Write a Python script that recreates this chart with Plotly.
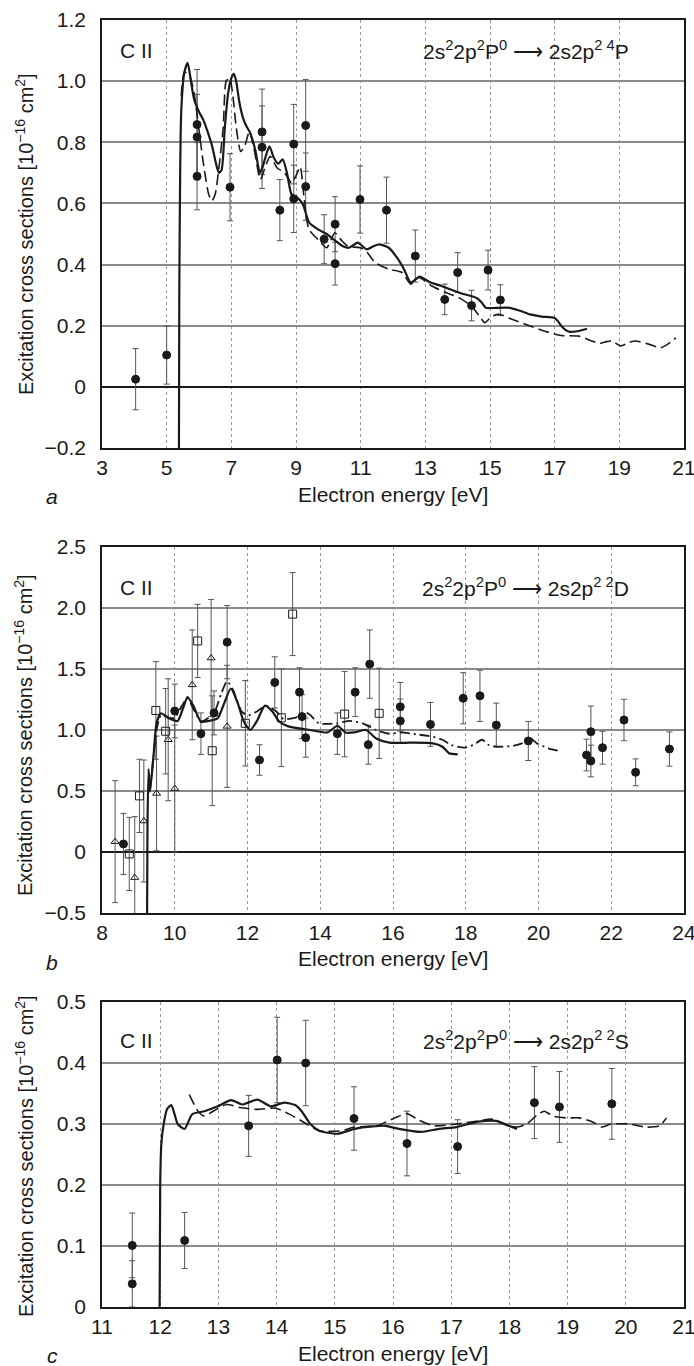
import plotly.graph_objects as go
from plotly.subplots import make_subplots

# ---- panel a : 2s2 2p 2P0 -> 2s2p2 4P ----
a_solid_x = [5.38, 5.39, 5.45, 5.55, 5.65, 5.75, 5.85, 6.0, 6.13, 6.25, 6.4, 6.55, 6.62, 6.7, 6.8, 6.9,
             7.0, 7.08, 7.15, 7.25, 7.36, 7.48, 7.56, 7.65, 7.75, 7.88, 7.97, 8.08, 8.18, 8.31, 8.45,
             8.59, 8.72, 8.86, 9.0, 9.2, 9.41, 9.68, 9.95, 10.23, 10.45, 10.64, 10.91, 11.18, 11.4,
             11.57, 11.87, 12.14, 12.34, 12.55, 12.82, 13.16, 13.5, 14.05, 14.6, 14.75, 14.87, 15.1,
             15.55, 15.9, 16.24, 16.6, 16.99, 17.1, 17.2, 17.35, 17.47, 17.7, 18.0]
a_solid_y = [-0.2, 0.3, 0.9, 1.03, 1.06, 1.0, 0.94, 0.9, 0.874, 0.84, 0.79, 0.72, 0.70, 0.71, 0.85, 0.96,
             1.01, 1.024, 1.0, 0.93, 0.88, 0.85, 0.836, 0.81, 0.77, 0.70, 0.72, 0.76, 0.787, 0.75, 0.73,
             0.744, 0.70, 0.63, 0.622, 0.60, 0.537, 0.515, 0.50, 0.477, 0.46, 0.455, 0.472, 0.45, 0.46,
             0.466, 0.455, 0.42, 0.385, 0.341, 0.361, 0.341, 0.33, 0.308, 0.29, 0.275, 0.259, 0.258,
             0.259, 0.25, 0.237, 0.23, 0.226, 0.215, 0.2, 0.185, 0.18, 0.182, 0.19]

a_dash_x = [5.45, 5.55, 5.7, 5.85, 6.0, 6.15, 6.3, 6.4, 6.5, 6.62, 6.75, 6.84, 6.95, 7.05, 7.15, 7.29,
            7.42, 7.56, 7.7, 7.9, 8.05, 8.2, 8.42, 8.65, 8.86, 9.0, 9.13, 9.25, 9.4, 9.7, 9.95, 10.2,
            10.4, 10.6, 11.0, 11.2, 11.45, 11.87, 12.28, 12.55, 12.8, 13.2, 13.6, 14.05, 14.43, 14.65,
            14.84, 15.05, 15.28, 15.7, 16.24, 16.7, 17.2, 17.75, 18.1, 18.4, 18.6, 18.76, 19.04, 19.3,
            19.5, 19.93, 20.27, 20.5, 20.75]
a_dash_y = [0.95, 1.03, 1.02, 0.96, 0.84, 0.72, 0.63, 0.608, 0.63, 0.72, 0.85, 1.0, 1.01, 0.95, 0.85, 0.77,
            0.79, 0.836, 0.78, 0.678, 0.72, 0.754, 0.716, 0.70, 0.667, 0.69, 0.72, 0.62, 0.515, 0.48,
            0.455, 0.504, 0.48, 0.46, 0.455, 0.44, 0.406, 0.385, 0.374, 0.336, 0.358, 0.33, 0.31, 0.291,
            0.264, 0.235, 0.21, 0.23, 0.237, 0.22, 0.199, 0.182, 0.168, 0.166, 0.152, 0.142, 0.148, 0.15,
            0.134, 0.145, 0.15, 0.139, 0.128, 0.14, 0.16]

a_pts_x = [4.04, 5.0, 5.94, 5.94, 5.94, 6.96, 7.95, 7.95, 8.5, 8.93, 8.93, 9.3, 9.3, 9.87, 10.21, 10.21,
           10.98, 11.8, 12.69, 13.6, 14.0, 14.43, 14.94, 15.32]
a_pts_y = [0.025, 0.104, 0.858, 0.817, 0.689, 0.653, 0.834, 0.784, 0.578, 0.794, 0.615, 0.855, 0.655,
           0.483, 0.532, 0.403, 0.613, 0.578, 0.428, 0.286, 0.374, 0.266, 0.382, 0.284]
a_pts_err = [0.1, 0.095, 0.18, 0.14, 0.11, 0.11, 0.14, 0.135, 0.10, 0.13, 0.11, 0.15, 0.11, 0.08, 0.09,
             0.07, 0.11, 0.108, 0.085, 0.05, 0.065, 0.05, 0.065, 0.05]

# ---- panel b : 2s2 2p 2P0 -> 2s2p2 2D ----
b_solid_x = [9.24, 9.25, 9.28, 9.32, 9.42, 9.5, 9.62, 9.84, 10.08, 10.23, 10.35, 10.51, 10.72, 10.93,
             11.18, 11.36, 11.54, 11.72, 11.9, 12.08, 12.27, 12.48, 12.69, 12.87, 13.12, 13.72, 14.2,
             14.47, 14.69, 14.93, 15.26, 15.54, 15.9, 16.5, 17.1, 17.36, 17.54, 17.78]
b_solid_y = [-0.5, 0.2, 0.68, 0.495, 0.8, 1.055, 1.137, 1.096, 1.074, 1.18, 1.27, 1.2, 1.068, 1.074,
             1.096, 1.22, 1.34, 1.23, 1.068, 1.0, 1.08, 1.2, 1.15, 1.07, 1.03, 1.0, 0.98, 1.035, 0.98,
             0.98, 1.0, 0.93, 0.896, 0.896, 0.89, 0.863, 0.81, 0.80]

b_dash_x = [9.32, 9.42, 9.5, 9.62, 9.84, 10.0, 10.2, 10.35, 10.5, 10.72, 10.93, 11.1, 11.28, 11.44, 11.6,
            11.84, 12.02, 12.25, 12.5, 12.8, 12.99, 13.3, 13.66, 13.96, 14.45, 14.81, 15.17, 15.54, 15.9,
            16.2, 16.63, 17.1, 17.36, 17.6, 17.96, 18.2, 18.45, 18.63, 18.93, 19.3, 19.54, 19.75, 19.96,
            20.27, 20.53]
b_dash_y = [0.5, 0.8, 1.0, 1.12, 1.1, 1.1, 1.2, 1.26, 1.18, 1.07, 1.1, 1.15, 1.3, 1.4, 1.33, 1.15, 1.12,
            1.15, 1.2, 1.15, 1.09, 1.1, 1.137, 1.055, 1.055, 1.074, 1.055, 1.0, 0.97, 0.98, 0.965, 0.945,
            0.92, 0.877, 0.855, 0.877, 0.92, 0.877, 0.863, 0.87, 0.89, 0.937, 0.89, 0.85, 0.83]

b_circ_x = [8.59, 10.0, 10.72, 11.08, 11.44, 12.33, 12.75, 13.43, 13.5, 13.6, 14.47, 14.96, 15.36, 15.32,
            16.2, 16.2, 17.03, 17.93, 18.39, 18.84, 19.72, 21.32, 21.44, 21.44, 21.76, 22.35, 22.67, 23.6]
b_circ_y = [0.066, 1.156, 0.97, 1.14, 1.72, 0.754, 1.39, 1.31, 1.11, 0.937, 0.97, 1.31, 1.54, 0.88, 1.19,
            1.074, 1.046, 1.26, 1.28, 1.04, 0.91, 0.795, 0.986, 0.746, 0.855, 1.082, 0.653, 0.844]
b_circ_err = [0.25, 0.22, 0.17, 0.18, 0.3, 0.125, 0.21, 0.2, 0.18, 0.16, 0.17, 0.2, 0.28, 0.16, 0.2,
              0.18, 0.18, 0.21, 0.21, 0.18, 0.16, 0.13, 0.21, 0.13, 0.135, 0.17, 0.11, 0.14]

b_sq_x = [8.75, 9.03, 9.48, 9.75, 10.63, 11.03, 11.94, 12.93, 13.24, 14.67, 15.62]
b_sq_y = [-0.016, 0.46, 1.16, 0.99, 1.73, 0.83, 1.055, 1.1, 1.95, 1.13, 1.137]
b_sq_err = [0.3, 0.3, 0.4, 0.35, 0.3, 0.45, 0.35, 0.4, 0.34, 0.35, 0.37]

b_tri_x = [8.36, 8.9, 9.15, 9.5, 9.82, 10.0, 10.48, 11.0, 11.44]
b_tri_y = [0.085, -0.21, 0.254, 0.48, 0.92, 0.52, 1.37, 1.59, 1.03]
b_tri_err = [0.5, 0.5, 0.5, 0.47, 0.5, 0.52, 0.45, 0.48, 0.5]

# ---- panel c : 2s2 2p 2P0 -> 2s2p2 2S ----
c_solid_x = [11.99, 12.0, 12.02, 12.06, 12.12, 12.19, 12.25, 12.3, 12.42, 12.55, 12.76, 12.99, 13.22,
             13.41, 13.67, 13.9, 14.13, 14.32, 14.43, 14.58, 14.73, 15.04, 15.34, 15.65, 15.87, 16.1,
             16.48, 16.79, 17.09, 17.47, 17.77, 17.99, 18.13]
c_solid_y = [0.0, 0.2, 0.268, 0.3, 0.325, 0.331, 0.315, 0.3, 0.292, 0.316, 0.321, 0.329, 0.339, 0.332,
             0.34, 0.329, 0.335, 0.331, 0.321, 0.3, 0.289, 0.284, 0.292, 0.296, 0.297, 0.292, 0.287,
             0.292, 0.295, 0.304, 0.305, 0.297, 0.292]

c_dash_x = [12.5, 12.65, 12.76, 12.91, 13.14, 13.37, 13.67, 13.98, 14.2, 14.43, 14.73, 15.12, 15.34,
            15.72, 16.03, 16.24, 16.45, 16.71, 17.09, 17.47, 17.7, 17.9, 18.14, 18.3, 18.49, 18.6, 18.75,
            18.98, 19.2, 19.44, 19.59, 19.74, 20.05, 20.35, 20.58, 20.7]
c_dash_y = [0.348, 0.321, 0.313, 0.321, 0.332, 0.327, 0.324, 0.326, 0.317, 0.305, 0.289, 0.289, 0.295,
            0.297, 0.31, 0.317, 0.306, 0.297, 0.3, 0.305, 0.308, 0.3, 0.295, 0.3, 0.316, 0.321, 0.313,
            0.31, 0.31, 0.303, 0.295, 0.3, 0.3, 0.295, 0.297, 0.31]

c_pts_x = [11.52, 11.52, 12.42, 13.52, 14.01, 14.5, 15.33, 16.24, 17.11, 18.43, 18.86, 19.76]
c_pts_y = [0.101, 0.038, 0.109, 0.297, 0.405, 0.40, 0.309, 0.268, 0.263, 0.335, 0.328, 0.333]
c_pts_err = [0.053, 0.038, 0.046, 0.05, 0.07, 0.07, 0.052, 0.053, 0.044, 0.059, 0.058, 0.058]

# ---- axes ----
a_yticks = [-0.2, 0, 0.2, 0.4, 0.6, 0.8, 1.0, 1.2]
a_ylabels = ['\u22120.2', '0', '0.2', '0.4', '0.6', '0.8', '1.0', '1.2']
a_xticks = [3, 5, 7, 9, 11, 13, 15, 17, 19, 21]
b_yticks = [-0.5, 0, 0.5, 1.0, 1.5, 2.0, 2.5]
b_ylabels = ['\u22120.5', '0', '0.5', '1.0', '1.5', '2.0', '2.5']
b_xticks = [8, 10, 12, 14, 16, 18, 20, 22, 24]
c_yticks = [0, 0.1, 0.2, 0.3, 0.4, 0.5]
c_ylabels = ['0', '0.1', '0.2', '0.3', '0.4', '0.5']
c_xticks = [11, 12, 13, 14, 15, 16, 17, 18, 19, 20, 21]

FONT = 'Liberation Sans, Arial, sans-serif'
INK = '#1a1a1a'
FS = 21

fig = make_subplots(rows=3, cols=1)


def curve(x, y, dash, width, row):
    fig.add_trace(go.Scatter(x=x, y=y, mode='lines', line=dict(color=INK, width=width, dash=dash,
                                                                   shape='spline', smoothing=0.6),
                             showlegend=False, hoverinfo='skip'), row=row, col=1)


def points(x, y, err, symbol, size, row):
    fig.add_trace(go.Scatter(x=x, y=y, mode='markers',
                             marker=dict(symbol=symbol, size=size, color=INK,
                                         line=dict(color=INK, width=1)),
                             error_y=dict(type='data', array=err, color='#555', thickness=1, width=3),
                             showlegend=False), row=row, col=1)


points(a_pts_x, a_pts_y, a_pts_err, 'circle', 8, 1)
curve(a_dash_x, a_dash_y, '11px,5px', 1.6, 1)
curve(a_solid_x, a_solid_y, 'solid', 2.2, 1)

points(b_tri_x, b_tri_y, b_tri_err, 'triangle-up-open', 7, 2)
points(b_sq_x, b_sq_y, b_sq_err, 'square-open', 8, 2)
points(b_circ_x, b_circ_y, b_circ_err, 'circle', 8, 2)
curve(b_dash_x, b_dash_y, '10px,4px,2px,4px', 1.8, 2)
curve(b_solid_x, b_solid_y, 'solid', 2.2, 2)

points(c_pts_x, c_pts_y, c_pts_err, 'circle', 8, 3)
curve(c_dash_x, c_dash_y, '11px,5px', 1.6, 3)
curve(c_solid_x, c_solid_y, 'solid', 2.2, 3)

xdom = [102 / 694, 684 / 694]
panels = [
    (1, [3, 21], a_xticks, [-0.2, 1.2], a_yticks, a_ylabels, [1 - 448 / 1366, 1 - 20 / 1366]),
    (2, [8, 24], b_xticks, [-0.5, 2.5], b_yticks, b_ylabels, [1 - 913 / 1366, 1 - 547 / 1366]),
    (3, [11, 21], c_xticks, [0, 0.5], c_yticks, c_ylabels, [1 - 1307 / 1366, 1 - 1002 / 1366]),
]
for row, xr, xt, yr, yt, yl, ydom in panels:
    fig.update_xaxes(range=xr, tickvals=xt, domain=xdom, showgrid=True, gridcolor='#9a9a9a',
                     griddash='dot', gridwidth=1, zeroline=False, showline=True, mirror=True,
                     linecolor=INK, linewidth=1.5, ticks='', ticklabelstandoff=0, automargin=False,
                     ticklabeloverflow='allow',
                     tickfont=dict(family=FONT, size=FS, color=INK), row=row, col=1)
    fig.update_yaxes(range=yr, tickvals=yt, ticktext=yl, domain=ydom, showgrid=True, gridcolor='#8a8a8a',
                     gridwidth=1.5, zeroline=True, zerolinecolor=INK, zerolinewidth=2, showline=True,
                     mirror=True, linecolor=INK, linewidth=1.5, ticks='', ticklabelstandoff=10,
                     automargin=False, tickfont=dict(family=FONT, size=FS, color=INK), row=row, col=1)

ytitle = 'Excitation cross sections [10<sup>\u221216</sup> cm<sup>2</sup>]'
trans = ['2s<sup>2</sup>2p<sup>2</sup>P<sup>0</sup> \u27f6 2s2p<sup>2 4</sup>P',
         '2s<sup>2</sup>2p<sup>2</sup>P<sup>0</sup> \u27f6 2s2p<sup>2 2</sup>D',
         '2s<sup>2</sup>2p<sup>2</sup>P<sup>0</sup> \u27f6 2s2p<sup>2 2</sup>S']
letters = ['a', 'b', 'c']
label_y = [50, 587, 1040]
xtitle_y = [494, 958, 1353]
letter_y = [497, 962, 1355]
ytitle_y = [234, 735, 1156]


def note(text, xpx, ypx, xanchor='center', angle=0, size=FS):
    return dict(text=text, x=xpx / 694, y=1 - ypx / 1366, xref='paper', yref='paper',
                xanchor=xanchor, yanchor='middle', textangle=angle, showarrow=False,
                font=dict(family=FONT, size=size, color=INK))


ann = []
for i in range(3):
    ann.append(note('C II', 136, label_y[i]))
    ann.append(note(trans[i], 631, label_y[i], xanchor='right'))
    ann.append(note('Electron energy [eV]', 393, xtitle_y[i]))
    ann.append(note('<i>%s</i>' % letters[i], 52, letter_y[i]))
    ann.append(note(ytitle, 24, ytitle_y[i], angle=-90, size=20))

fig.update_layout(width=694, height=1366, margin=dict(l=0, r=0, t=0, b=0),
                  paper_bgcolor='white', plot_bgcolor='white', annotations=ann,
                  font=dict(family=FONT, size=FS, color=INK))

fig.write_html("out.html", config={'displayModeBar': False},
               post_script="document.body.style.margin='0';document.body.style.overflow='hidden';")
